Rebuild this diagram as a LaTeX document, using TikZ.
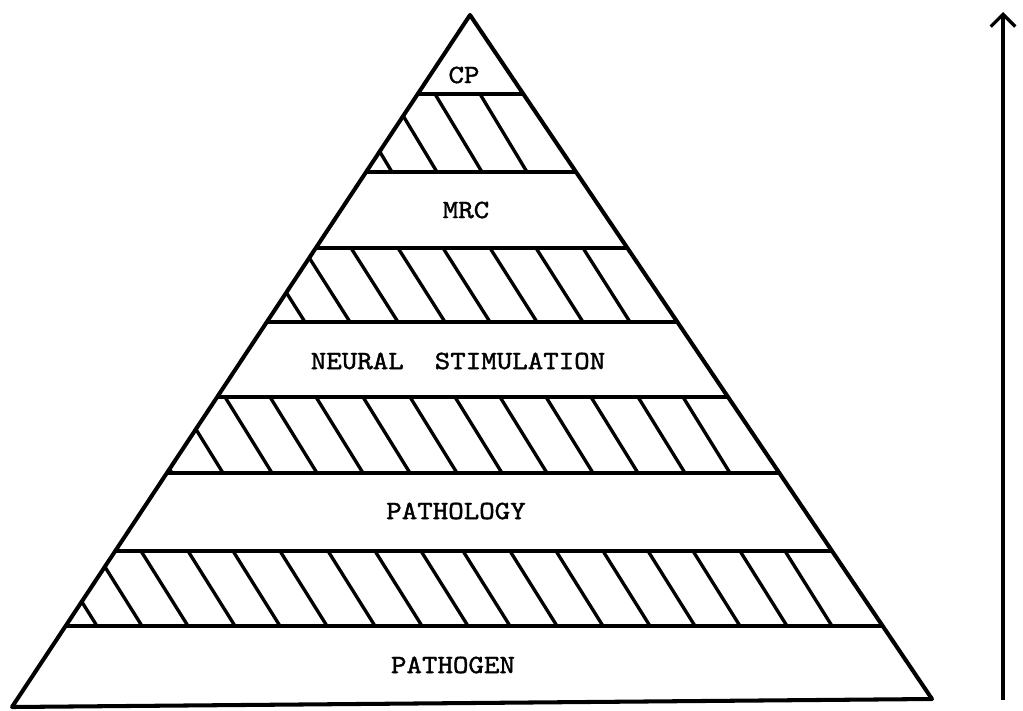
\documentclass[tikz,border=0pt]{standalone}
\usepackage{fontspec}
\newfontfamily\typewriter[FakeBold=1.4]{lmmono10-regular.otf}
\usetikzlibrary{arrows.meta}
\newcommand{\tiername}[1]{\scalebox{1.12}[1]{#1}}
\begin{document}
\begin{tikzpicture}[x=0.02cm, y=-0.02cm,
  outline/.style={line width=2.3pt, line join=round, line cap=round},
  rule/.style={line width=2pt},
  hatch/.style={line width=1.9pt},
  tier/.style={font=\typewriter\fontsize{15}{17}\selectfont, inner sep=0pt}]
\useasboundingbox (0,0) rectangle (1023,710);

% corners of the pyramid
\coordinate (apex) at (470,15);
\coordinate (bl) at (12,707);
\coordinate (br) at (932,699);

\begin{scope}
  \clip (apex) -- (bl) -- (br) -- cycle;
  % tier boundaries
  \foreach \y in {94,172,248,322,397,473,551,626}
    \draw[rule] (0,\y) -- (1023,\y);
  % hatched bands: lines listed by their lower end
  \foreach \b in {392,437,482,527}
    \draw[hatch] (\b-47,94) -- (\b,172);
  \foreach \b in {305,350,398,445,490,537,583,630}
    \draw[hatch] (\b-47,248) -- (\b,322);
  \foreach \b in {172,223,272,317,363,410,457,502,547,593,638,685,730}
    \draw[hatch] (\b-47,397) -- (\b,473);
  \foreach \b in {97,142,188,235,280,327,375,422,468,510,557,603,650,695,740,787,832}
    \draw[hatch] (\b-47,551) -- (\b,626);
\end{scope}

\draw[outline] (apex) -- (bl) -- (br) -- cycle;

% tier names
\node[tier] (cp)   at (464,75)  {\tiername{CP}};
\node[tier] (mrc)  at (466,210) {\tiername{MRC}};
\node[tier] (ns)   at (458,361) {\tiername{NEURAL~~STIMULATION}};
\node[tier] (pthl) at (456,511) {\tiername{PATHOLOGY}};
\node[tier] (pthg) at (453,665) {\tiername{PATHOGEN}};

% upward arrow beside the pyramid
\coordinate (abot) at (1003,700);
\coordinate (atop) at (1003,12);
\draw[line width=1.9pt, -{Straight Barb[length=7pt,width=14pt]}] (abot) -- (atop);
\end{tikzpicture}
\end{document}
